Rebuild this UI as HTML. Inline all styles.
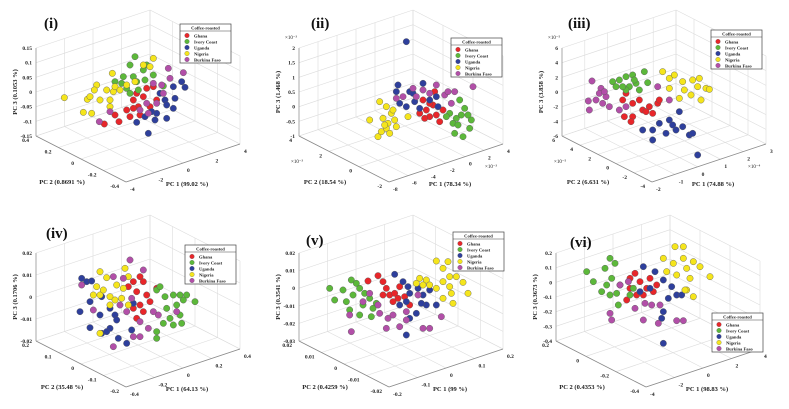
<!DOCTYPE html>
<html><head><meta charset="utf-8"><style>
body{margin:0;background:#fff;}
svg{display:block;font-family:"Liberation Serif",serif;}
</style></head><body>
<svg id="fig" width="789" height="409" viewBox="0 0 789 409"></svg>
<script>
// ---- data (screen-projected scores at 3x scale) ----
const groups = ["Ghana","Ivory Coast","Uganda","Nigeria","Burkina Faso"];
const colors = ["#e8262a","#5cb83a","#2e3f9c","#f5e51c","#b24fa8"];
const panelTitles = ["(i)","(ii)","(iii)","(iv)","(v)","(vi)"];
const pc1Titles = ["PC 1 (99.02 %)","PC 1 (78.34 %)","PC 1 (74.88 %)","PC 1 (64.13 %)","PC 1 (99 %)","PC 1 (98.83 %)"];
const pc2Titles = ["PC 2 (0.8691 %)","PC 2 (18.54 %)","PC 2 (6.631 %)","PC 2 (35.48 %)","PC 2 (0.4259 %)","PC 2 (0.4353 %)"];
const pc3Titles = ["PC 3 (0.1053 %)","PC 3 (1.468 %)","PC 3 (3.858 %)","PC 3 (0.1706 %)","PC 3 (0.3541 %)","PC 3 (0.3673 %)"];
const zTicks = [["0.15","0.1","0.05","0","-0.05","-0.1","-0.15"],["2","1.5","1","0.5","0","-0.5","-1"],["6","4","2","0","-2","-4","-6"],["0.02","0.01","0","-0.01","-0.02"],["0.02","0.01","0","-0.01","-0.02","-0.03"],["0.2","0.1","0","-0.1","-0.2","-0.3","-0.4"]];
const pc2Ticks = [["0.4","0.2","0","-0.2","-0.4"],["4","2","0","-2"],["6","4","2","0","-2","-4"],["0.2","0.1","0","-0.1","-0.2"],["0.02","0.01","0","-0.01","-0.02"],["0.2","0","-0.2","-0.4"]];
const pc1Ticks = [["-4","-2","0","2","4"],["-8","-6","-4","-2","0","2","4"],["-2","-1","0","1","2","3"],["-0.4","-0.2","0","0.2","0.4"],["-0.2","-0.1","0","0.1","0.2"],["-4","-2","0","2","4"]];
const expZ = ["","×10⁻³","×10⁻⁵","","",""];
const expPc2 = ["","×10⁻³","×10⁻⁵","","",""];
const expPc1 = ["","×10⁻³","×10⁻⁴","","",""];
const legendPos = [[180,24],[188,38],[185,30],[185,40],[190,27],[192,108]];
const titlePos = [[44,28],[48,28],[42,28],[46,33],[43,40],[50,42]];
// points: [panel][group] = [[x,y],...] in 3x-zoom coords of each panel
const pts = [
 [ // (i)
  [[313,372],[357,365],[345,345],[380,330],[400,300],[415,320],[430,290],[440,265],[460,260],[390,350],[420,345],[450,320],[410,280],[470,300],[400,325]],
  [[405,170],[430,210],[390,195],[370,230],[345,245],[365,250],[380,265],[400,230],[440,195],[460,225],[390,280],[415,270],[490,258],[410,245],[435,240]],
  [[445,400],[410,367],[465,360],[470,340],[500,355],[520,325],[495,300],[480,280],[520,260],[545,245],[555,262],[500,315],[455,335],[435,350],[525,295]],
  [[193,293],[250,337],[275,340],[262,298],[270,290],[290,255],[283,270],[300,300],[320,270],[340,275],[330,300],[345,260],[337,220],[360,270],[330,320],[380,255],[405,245],[430,195],[460,175],[450,200]],
  [[298,365],[330,335],[460,250],[505,205],[550,218],[510,235],[490,280],[470,310],[440,310],[445,340],[420,330],[485,255]]
 ],
 [ // (ii)
  [[470,340],[490,330],[500,350],[520,345],[530,365],[480,300],[510,315],[515,275],[540,330],[500,310],[485,355]],
  [[575,400],[600,410],[620,385],[625,360],[590,300],[605,325],[580,355],[560,340],[595,345],[570,370],[615,345],[550,350],[585,375]],
  [[430,125],[405,255],[400,275],[440,275],[430,320],[455,305],[480,250],[470,325],[500,300],[520,290],[525,320],[450,280],[410,310]],
  [[320,360],[345,410],[355,395],[350,305],[370,320],[360,355],[375,370],[385,340],[370,385],[395,360],[380,400],[365,375],[400,380],[435,350],[390,330]],
  [[400,295],[420,290],[450,265],[480,270],[520,255],[545,285],[555,275],[575,275],[630,260],[565,310],[460,290],[500,280]]
 ],
 [ // (iii)
  [[290,300],[300,280],[320,310],[340,300],[350,330],[370,320],[380,340],[320,350],[295,350],[315,365],[360,335],[395,310],[400,300]],
  [[260,245],[280,240],[300,230],[320,225],[310,260],[330,250],[355,215],[365,248],[340,270],[300,270],[290,260],[270,260],[325,240]],
  [[460,335],[430,360],[400,370],[380,390],[420,400],[450,390],[470,380],[490,405],[500,400],[380,420],[350,390],[515,465],[440,375]],
  [[410,215],[430,235],[445,225],[470,245],[500,240],[520,235],[540,265],[525,300],[495,285],[460,295],[430,265],[475,270],[515,260],[550,268]],
  [[198,243],[187,303],[190,330],[225,265],[240,290],[230,310],[210,300],[250,320],[220,280],[235,275],[395,260],[430,300],[300,320],[280,330]]
 ],
 [ // (iv)
  [[400,230],[420,215],[430,230],[410,260],[420,300],[440,270],[430,320],[410,340],[450,290],[470,250],[400,310],[385,245]],
  [[470,255],[480,245],[495,275],[520,270],[540,270],[560,270],[585,290],[530,300],[540,330],[510,340],[490,355],[520,360],[545,355],[470,380],[470,400],[500,310],[550,285]],
  [[245,220],[260,230],[275,228],[240,320],[270,290],[305,275],[330,310],[345,330],[350,345],[300,330],[330,370],[305,385],[320,380],[355,400],[380,415],[395,375],[270,368],[400,295]],
  [[300,200],[320,218],[290,245],[280,270],[300,270],[330,275],[345,285],[330,300],[370,250],[375,190],[385,215],[350,240],[310,255],[300,385],[365,280],[385,300]],
  [[245,240],[280,315],[340,215],[370,220],[390,165],[430,195],[395,280],[380,320],[420,350],[400,395],[420,395],[340,425],[475,330],[530,320],[460,320],[445,370],[360,300]]
 ],
 [ // (v)
  [[315,228],[345,212],[360,230],[370,250],[380,270],[395,265],[410,245],[405,280],[425,275],[440,300],[360,270],[390,290]],
  [[200,250],[215,285],[240,255],[265,225],[280,235],[290,250],[250,290],[260,315],[290,330],[300,300],[320,280],[330,310],[270,270],[305,265],[325,335],[340,295]],
  [[395,208],[420,230],[435,245],[440,265],[465,250],[480,270],[500,255],[490,300],[475,295],[430,290],[410,300],[460,325],[430,390],[520,300],[440,340]],
  [[470,220],[490,225],[520,168],[540,190],[555,170],[560,215],[540,230],[580,215],[600,232],[615,265],[565,265],[570,295],[540,280],[500,240],[520,250],[480,240],[460,235],[560,245]],
  [[260,330],[265,380],[300,290],[320,265],[345,300],[375,340],[370,370],[410,365],[430,345],[480,370],[500,370],[535,335],[465,270],[390,330],[350,325],[430,320]]
 ],
 [ // (vi)
  [[330,220],[345,205],[360,230],[380,250],[370,270],[400,260],[410,240],[350,270],[320,285],[390,220],[330,250]],
  [[270,160],[285,175],[200,200],[220,230],[245,260],[270,270],[260,240],[290,265],[300,240],[330,270],[295,300],[340,250],[255,190],[275,220]],
  [[370,185],[405,200],[430,225],[455,245],[470,270],[485,270],[445,280],[430,320],[425,340],[430,415],[390,250],[360,260]],
  [[465,125],[490,125],[430,160],[460,175],[490,160],[520,170],[540,185],[500,190],[470,210],[510,220],[570,215],[500,255],[520,275],[495,255],[440,200]],
  [[270,325],[275,345],[325,230],[370,345],[415,355],[470,347],[490,347],[420,300],[395,300],[375,295],[345,310],[300,240]]
 ]
];
// ---- rendering ----
const NS="http://www.w3.org/2000/svg";
const svg=document.getElementById('fig');
const offsets=[[0,0],[263,0],[526,0],[0,205],[263,205],[520,205]];
const A=[36,136],D=[150,98],B=[126,182],H=88;
function mk(tag,attrs,parent){const e=document.createElementNS(NS,tag);for(const k in attrs)e.setAttribute(k,attrs[k]);parent.appendChild(e);return e;}
function F(a,b,w){return [A[0]+a*(D[0]-A[0])+b*(B[0]-A[0]), A[1]+a*(D[1]-A[1])+b*(B[1]-A[1])-w*H];}
function sx(v){return v/3;} function sy(v){return v/3;}
function line(g,p,q,col,sw){mk('line',{x1:p[0],y1:p[1],x2:q[0],y2:q[1],stroke:col,'stroke-width':sw},g);}
function txt(g,x,y,s,size,anchor,extra){const t=mk('text',Object.assign({x:x,y:y,'font-size':size,'text-anchor':anchor||'start',fill:'#222'},extra||{}),g);t.textContent=s;return t;}

for(let p=0;p<6;p++){
  const g=mk('g',{transform:`translate(${offsets[p][0]},${offsets[p][1]})`},svg);
  
  
  const grid=mk('g',{},g);
  
  
  const gc='#dcdcdc';
  const nz=zTicks[p].length,n1=pc1Ticks[p].length,n2=pc2Ticks[p].length;
  for(let i=0;i<nz;i++){const w=i/(nz-1);line(grid,F(0,0,w),F(1,0,w),gc,0.6);line(grid,F(1,0,w),F(1,1,w),gc,0.6);}
  for(let i=0;i<n1;i++){const a=i/(n1-1);line(grid,F(a,0,0),F(a,0,1),gc,0.6);line(grid,F(a,0,0),F(a,1,0),gc,0.6);}
  for(let i=0;i<n2;i++){const b=i/(n2-1);line(grid,F(1,b,0),F(1,b,1),gc,0.6);line(grid,F(0,b,0),F(1,b,0),gc,0.6);}
  line(grid,F(0,0,0),F(0,0,1),'#999',0.8);
  line(grid,F(0,0,0),F(0,1,0),'#888',0.8);
  line(grid,F(0,1,0),F(1,1,0),'#888',0.8);
  // tick labels
  const tk=mk('g',{},g);
  
  
  for(let i=0;i<nz;i++){const q=F(0,0,1-i/(nz-1));txt(tk,q[0]-4,q[1]+2,zTicks[p][i],5.5,'end',{'font-weight':'bold'});}
  for(let i=0;i<n2;i++){const q=F(0,i/(n2-1),0);txt(tk,q[0]-7,q[1]+6,pc2Ticks[p][i],5.5,'end',{'font-weight':'bold'});}
  for(let i=0;i<n1;i++){const q=F(i/(n1-1),1,0);txt(tk,q[0]+4,q[1]+9,pc1Ticks[p][i],5.5,'start',{'font-weight':'bold'});}
  if(expZ[p]){const q=F(0,0,1);txt(tk,q[0]-14,q[1]-9,expZ[p],5,'start');}
  if(expPc2[p]){txt(tk,28,163,expPc2[p],5,'start');}
  if(expPc1[p]){txt(tk,222,168,expPc1[p],5,'start');}
  // axis titles
  const t3=txt(g,0,0,pc3Titles[p],6.5,'middle',{'font-weight':'bold',transform:`translate(17,${F(0,0,0.5)[1]}) rotate(-90)`});
  
  
  const t2=txt(g,62,184,pc2Titles[p],6.5,'middle',{'font-weight':'bold'});
  
  
  const t1=txt(g,187,186,pc1Titles[p],6.5,'middle',{'font-weight':'bold'});
  
  
  const tt=txt(g,titlePos[p][0],titlePos[p][1],panelTitles[p],15,'start',{'font-weight':'bold',fill:'#111'});
  
  
  // points
  for(let k=0;k<5;k++){
    const sg=mk('g',{},g);
    
    
    for(const pt of pts[p][k]){
      const c=mk('circle',{cx:sx(pt[0]),cy:sy(pt[1]),r:3.2,fill:colors[k],stroke:'#555','stroke-width':0.4},sg);
      
      
    }
  }
  // legend
  const lg=mk('g',{transform:`translate(${legendPos[p][0]},${legendPos[p][1]})`},g);
  
  
  mk('rect',{x:0,y:0,width:51,height:39,fill:'#fff',stroke:'#444','stroke-width':0.7},lg);
  line(lg,[0,7],[51,7],'#444',0.6);
  txt(lg,25.5,5.3,'Coffee-roasted',4.6,'middle',{'font-weight':'bold'});
  for(let k=0;k<5;k++){
    const e=mk('g',{},lg);
    
    
    mk('circle',{cx:7,cy:11.5+k*6,r:2.3,fill:colors[k],stroke:'#555','stroke-width':0.3},e);
    txt(e,14,13.3+k*6,groups[k],4.6,'start',{'font-weight':'bold'});
  }
}
</script>
</body></html>
